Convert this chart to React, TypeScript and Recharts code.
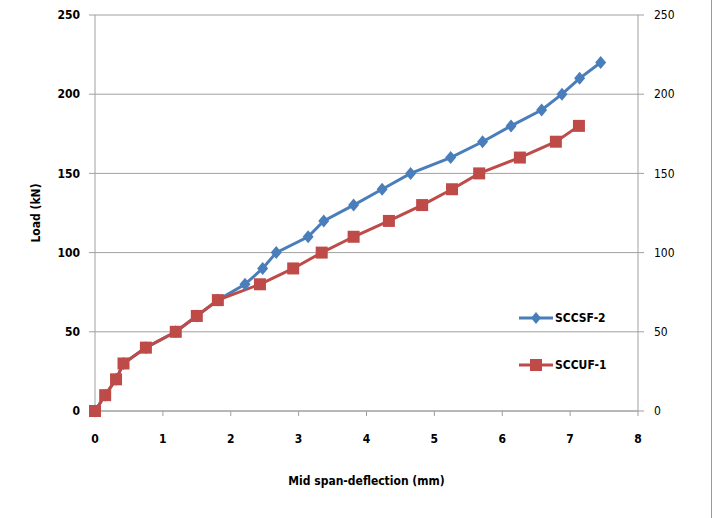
import React from 'react'
import {
  LineChart,
  Line,
  XAxis,
  YAxis,
  CartesianGrid,
} from 'recharts'

// Mid span deflection (mm) vs load (kN)
const deflectionSF = [0, 0.15, 0.31, 0.42, 0.75, 1.19, 1.5, 1.81, 2.21, 2.47, 2.67, 3.14, 3.37, 3.81, 4.23, 4.65, 5.24, 5.71, 6.13, 6.58, 6.88, 7.14, 7.45]
const loadSF = [0, 10, 20, 30, 40, 50, 60, 70, 80, 90, 100, 110, 120, 130, 140, 150, 160, 170, 180, 190, 200, 210, 220]

const deflectionUF = [0, 0.15, 0.31, 0.42, 0.75, 1.19, 1.5, 1.81, 2.43, 2.92, 3.34, 3.81, 4.33, 4.82, 5.26, 5.66, 6.26, 6.79, 7.13]
const loadUF = [0, 10, 20, 30, 40, 50, 60, 70, 80, 90, 100, 110, 120, 130, 140, 150, 160, 170, 180]

const seriesNames = ['SCCSF-2', 'SCCUF-1']
const xTicks = [0, 1, 2, 3, 4, 5, 6, 7, 8]
const yTicks = [0, 50, 100, 150, 200, 250]

const BLUE = '#4a7ebb'
const RED = '#be4b48'
const GREY = '#a0a0a0'
const FONT = '"Liberation Sans Narrow", "DejaVu Sans Condensed", Arial, sans-serif'

const sfData = deflectionSF.map((x, i) => ({ x, load: loadSF[i] }))
const ufData = deflectionUF.map((x, i) => ({ x, load: loadUF[i] }))

function diamondDot(props: any) {
  const { cx, cy, index } = props
  if (cx == null || cy == null) return null
  return (
    <path
      key={`d-${index}`}
      d={`M${cx},${cy - 6.5} L${cx + 5.5},${cy} L${cx},${cy + 6.5} L${cx - 5.5},${cy} Z`}
      fill={BLUE}
    />
  )
}

function squareDot(props: any) {
  const { cx, cy, index } = props
  if (cx == null || cy == null) return null
  return <rect key={`s-${index}`} x={cx - 6} y={cy - 6} width={12} height={12} fill={RED} />
}

// legend sits inside the plot, as in the original sheet
const LegendBox = () => {
  const items = [
    { name: seriesNames[0], color: BLUE, kind: 'diamond' },
    { name: seriesNames[1], color: RED, kind: 'square' },
  ]
  return (
    <div style={{ position: 'absolute', left: 519, top: 308, fontFamily: FONT, fontSize: 12, fontWeight: 700 }}>
      {items.map((it, i) => (
        <div key={it.name} style={{ display: 'flex', alignItems: 'center', height: 20, marginBottom: i === 0 ? 27 : 0 }}>
          <svg width={34} height={14} style={{ marginRight: 2 }}>
            <line x1={0} y1={7} x2={34} y2={7} stroke={it.color} strokeWidth={3} />
            {it.kind === 'diamond' ? (
              <path d="M17,1 L22,7 L17,13 L12,7 Z" fill={it.color} />
            ) : (
              <rect x={11} y={1} width={12} height={12} fill={it.color} />
            )}
          </svg>
          <span style={{ color: '#000' }}>{it.name}</span>
        </div>
      ))}
    </div>
  )
}

export default function App() {
  const tickStyle = { fill: '#000', fontSize: 12, fontWeight: 700, fontFamily: FONT }
  return (
    <div style={{ position: 'absolute', left: 0, top: 0, width: 720, height: 518, background: '#fff' }}>
      <LineChart width={720} height={518} margin={{ top: 15, right: 0, bottom: 0, left: 0 }}>
        <CartesianGrid horizontal vertical={false} stroke={GREY} yAxisId="left" />
        <XAxis
          dataKey="x"
          type="number"
          domain={[0, 8]}
          ticks={xTicks}
          height={107}
          tick={tickStyle}
          tickSize={5}
          tickMargin={18}
          axisLine={{ stroke: GREY }}
          tickLine={{ stroke: GREY }}
          allowDuplicatedCategory={false}
          label={{ value: 'Mid span-deflection (mm)', position: 'insideTop', offset: 65, style: tickStyle }}
        />
        <YAxis
          yAxisId="left"
          domain={[0, 250]}
          ticks={yTicks}
          width={95}
          tick={tickStyle}
          tickSize={6}
          tickMargin={9}
          axisLine={{ stroke: GREY }}
          tickLine={{ stroke: GREY }}
          label={{ value: 'Load (kN)', angle: -90, position: 'center', dx: -12, style: tickStyle }}
        />
        <YAxis
          yAxisId="right"
          orientation="right"
          domain={[0, 250]}
          ticks={yTicks}
          width={82}
          tick={{ ...tickStyle, fontWeight: 400 }}
          tickSize={6}
          tickMargin={10}
          axisLine={{ stroke: GREY }}
          tickLine={{ stroke: GREY }}
        />
        {/* invisible copy on the right axis so it gets drawn */}
        <Line
          yAxisId="right"
          data={ufData}
          dataKey="load"
          stroke="none"
          dot={false}
          activeDot={false}
          legendType="none"
          isAnimationActive={false}
        />
        <Line
          yAxisId="left"
          data={sfData}
          dataKey="load"
          name={seriesNames[0]}
          stroke={BLUE}
          strokeWidth={3}
          dot={diamondDot}
          isAnimationActive={false}
        />
        <Line
          yAxisId="left"
          data={ufData}
          dataKey="load"
          name={seriesNames[1]}
          stroke={RED}
          strokeWidth={3}
          dot={squareDot}
          isAnimationActive={false}
        />
      </LineChart>
      <LegendBox />
      <div style={{ position: 'absolute', left: 711, top: 0, width: 1, height: 518, background: '#999' }} />
    </div>
  )
}
